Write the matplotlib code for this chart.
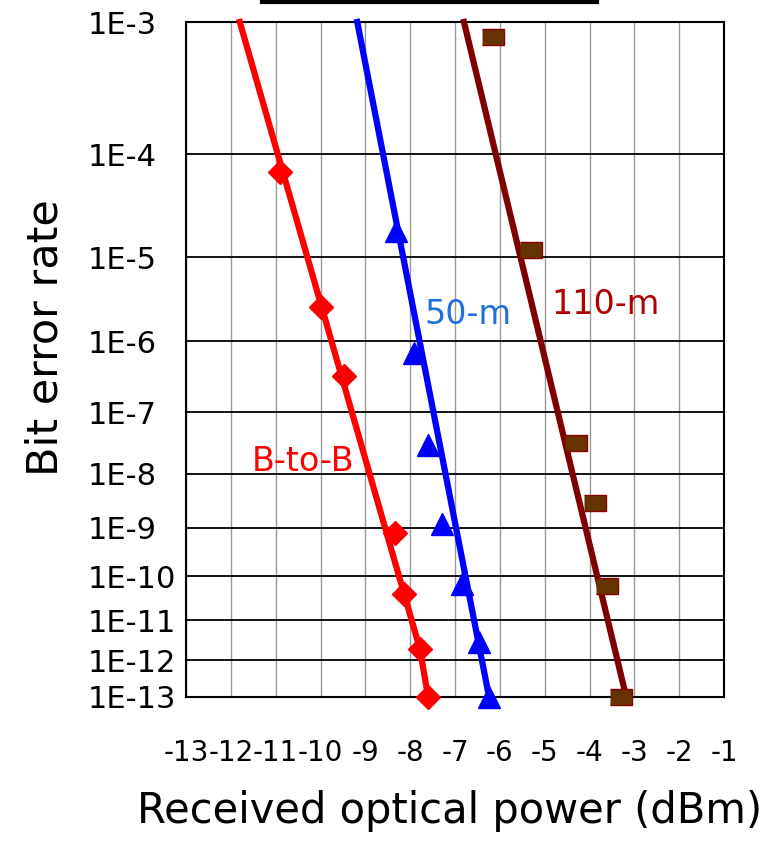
import numpy as np
import matplotlib
matplotlib.use("Agg")
import matplotlib.pyplot as plt
from matplotlib.lines import Line2D

# measured points
btb_x = [-10.91, -10.0, -9.47, -8.33, -8.13, -7.78, -7.6]
btb_y = [7e-5, 2.7e-6, 3.4e-7, 8e-10, 4e-11, 1.9e-12, 1e-13]
m50_x = [-8.31, -7.91, -7.6, -7.29, -6.84, -6.47, -6.24]
m50_y = [1.9e-5, 7e-7, 3e-8, 1.2e-9, 6.7e-11, 2.9e-12, 1e-13]
m110_x = [-6.15, -5.3, -4.3, -3.87, -3.6, -3.3]
m110_y = [8e-4, 1.2e-5, 3.2e-8, 3e-9, 6e-11, 1e-13]

# fitted lines
btb_fit_x = [-11.8, -7.78, -7.6]
btb_fit_y = [1e-3, 1.9e-12, 1e-13]
m50_fit_x = [-9.18, -6.24]
m50_fit_y = [1e-3, 1e-13]
m110_fit_x = [-6.8, -3.18]
m110_fit_y = [1e-3, 1e-13]

ber_ticks = [1e-3, 1e-4, 1e-5, 1e-6, 1e-7, 1e-8, 1e-9, 1e-10, 1e-11, 1e-12, 1e-13]
ber_labels = ["1E-3", "1E-4", "1E-5", "1E-6", "1E-7", "1E-8", "1E-9",
              "1E-10", "1E-11", "1E-12", "1E-13"]
x_ticks = list(range(-13, 0))


def fwd(b):
    b = np.clip(b, 1e-300, 1 - 1e-12)
    return -np.log10(-np.log10(b))


def inv(y):
    return 10 ** (-10 ** (-np.asarray(y)))


fig = plt.figure(figsize=(7.78, 8.41), dpi=100)
ax = fig.add_axes([186 / 778, 1 - 697 / 841, (724 - 186) / 778, (697 - 22) / 841])
ax.set_yscale("function", functions=(fwd, inv))
ax.set_xlim(-13, -1)
ax.set_ylim(1e-13, 1e-3)

ax.set_yticks(ber_ticks)
ax.set_yticklabels(ber_labels)
ax.yaxis.set_minor_locator(matplotlib.ticker.NullLocator())
ax.set_xticks(x_ticks)
ax.set_xticklabels([str(v) for v in x_ticks])

ax.grid(axis="x", color="#999999", lw=1.0, zorder=0)
ax.grid(axis="y", color="black", lw=1.3, zorder=0)
ax.tick_params(length=0)
ax.tick_params(axis="x", labelsize=20, pad=30)
ax.tick_params(axis="y", labelsize=22, pad=71)
for lab in ax.get_yticklabels():
    lab.set_horizontalalignment("left")
for s in ax.spines.values():
    s.set_linewidth(1.5)

ax.plot(btb_fit_x, btb_fit_y, color="#FF0000", lw=4.5, zorder=3, clip_on=False)
ax.plot(m50_fit_x, m50_fit_y, color="#0000FF", lw=4.5, zorder=3, clip_on=False)
ax.plot(m110_fit_x, m110_fit_y, color="#800000", lw=4.5, zorder=3, clip_on=False)

ax.plot(btb_x, btb_y, "D", color="#FF0000", ms=12, zorder=4, clip_on=False)
ax.plot(m50_x, m50_y, "^", color="#0000FF", ms=16, zorder=4, clip_on=False)
rect = [(-1, -0.72), (1, -0.72), (1, 0.72), (-1, 0.72)]
ax.plot(m110_x, m110_y, marker=rect, ls="none", color="#663300", mec="#8B0000",
        mew=1, ms=16, zorder=4, clip_on=False)

ax.text(-10.38, 1.1e-8, "B-to-B", color="#FF0000", fontsize=24, ha="center", va="baseline")
ax.text(-6.71, 1.65e-6, "50-m", color="#1E6EDC", fontsize=24, ha="center", va="baseline")
ax.text(-3.64, 2.2e-6, "110-m", color="#B00000", fontsize=24, ha="center", va="baseline")

fig.text(450 / 778, 1 - 823 / 841, "Received optical power (dBm)", fontsize=30,
         ha="center", va="baseline")
fig.text(46 / 778, 1 - 338 / 841, "Bit error rate", fontsize=31, rotation=90,
         ha="center", va="center")

# cut-off box edge at the top
fig.add_artist(Line2D([262 / 778, 597 / 778], [1 - 2 / 841, 1 - 2 / 841],
                      color="black", lw=3))

fig.savefig("out.png", dpi=100)
